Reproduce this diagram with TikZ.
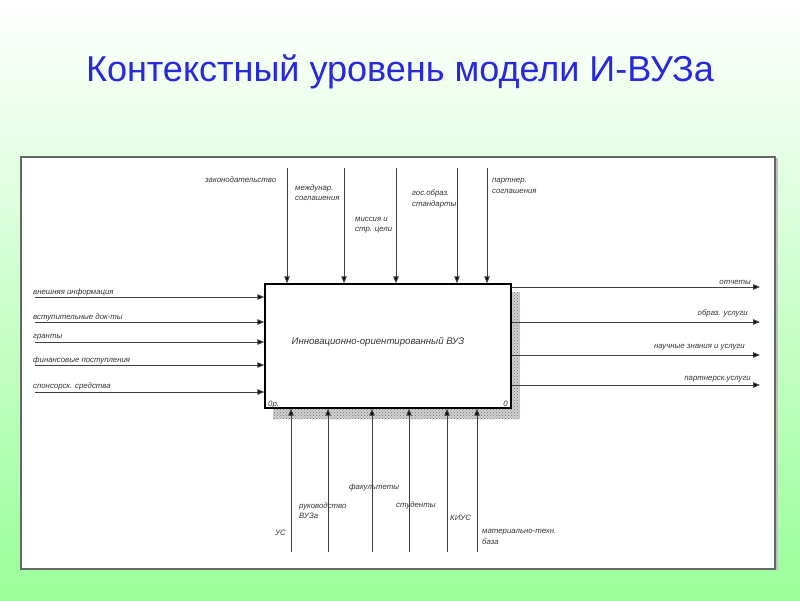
\documentclass[tikz,border=0pt]{standalone}
\usepackage{fontspec}
\setmainfont{Liberation Sans}
\usetikzlibrary{arrows.meta,patterns}
\definecolor{titleblue}{RGB}{40,40,220}
\definecolor{bggreen}{RGB}{153,255,153}
\begin{document}
\begin{tikzpicture}[x=1pt,y=-1pt,
  lbl/.style={font=\fontsize{7.8}{10.5}\selectfont\itshape, text=black!80, inner sep=0pt, align=left},
  rlbl/.style={lbl, align=right, anchor=base east},
  arr/.style={draw=black!75, line width=1pt, -{Triangle[length=7pt,width=5.5pt,fill=black]}},
  box/.style={draw=black, line width=1.4pt, fill=white, minimum width=246pt, minimum height=124pt, inner sep=0pt},
  titlestyle/.style={font=\fontsize{36}{40}\selectfont, text=titleblue, inner sep=0pt}
]
% background and bounding box
\shade[top color=white, bottom color=bggreen] (0,0) rectangle (800,600);
\useasboundingbox (0,0) rectangle (800,600);
% title
\node[titlestyle] (title) at (400,72) {Контекстный уровень модели И-ВУЗа};
% white frame
\draw[draw=black!25, line width=2pt] (777,158) -- (777,570);
\draw[draw=black!60, line width=1.2pt, fill=white] (21,157) rectangle (775,569);
% shadow and box
\fill[black!18] (273,292) rectangle (520,419);
\fill[pattern=crosshatch dots, pattern color=black!55] (273,292) rectangle (520,419);
\node[box] (box) at (388,346) {};
\node[lbl, font=\fontsize{9.6}{11}\selectfont\itshape] (boxtext) at (378,342) {Инновационно-ориентированный ВУЗ};
\node[lbl, anchor=base west] (num) at (268,406.5) {0р.};
\node[lbl, anchor=base east] (num2) at (508,406.5) {0};
% top arrows (controls)
\foreach \n/\x in {t1/287,t2/344,t3/396,t4/457,t5/487}{
  \coordinate (\n) at (\x,168);
  \draw[arr] (\n) -- (\n |- box.north);
}
% left arrows (inputs)
\foreach \n/\y in {l1/297,l2/322,l3/342,l4/365,l5/392}{
  \coordinate (\n) at (35,\y);
  \draw[arr] (\n) -- (\n -| box.west);
}
% right arrows (outputs)
\foreach \n/\y in {r1/287,r2/322,r3/355,r4/385}{
  \coordinate (\n) at (760,\y);
  \draw[arr] (\n -| box.east) -- (\n);
}
% bottom arrows (mechanisms)
\foreach \n/\x in {b1/291,b2/328,b3/372,b4/409,b5/447,b6/477}{
  \coordinate (\n) at (\x,552);
  \draw[arr] (\n) -- (\n |- box.south);
}
% top labels (base anchor = last line baseline)
\node[lbl, anchor=base west] (tl1) at (205,182.5) {законодательство};
\node[lbl, anchor=base west] (tl2) at (295,200.5) {междунар.\\соглашения};
\node[lbl, anchor=base west] (tl3) at (355,231.5) {миссия и\\стр. цели};
\node[lbl, anchor=base west] (tl4) at (412,206) {гос.образ.\\стандарты};
\node[lbl, anchor=base west] (tl5) at (492,193) {партнер.\\соглашения};
% left labels
\node[lbl, anchor=base west] (ll1) at (33,294.5) {внешняя информация};
\node[lbl, anchor=base west] (ll2) at (33,319.5) {вступительные док-ты};
\node[lbl, anchor=base west] (ll3) at (33,338.5) {гранты};
\node[lbl, anchor=base west] (ll4) at (33,362.5) {финансовые поступления};
\node[lbl, anchor=base west] (ll5) at (33,388.5) {спонсорск. средства};
% right labels
\node[rlbl] (rl1) at (751,284.5) {отчеты};
\node[rlbl] (rl2) at (748,315.5) {образ. услуги};
\node[rlbl] (rl3) at (745,348.5) {научные знания и услуги};
\node[rlbl] (rl4) at (751,380.5) {партнерск.услуги};
% bottom labels
\node[lbl, anchor=base west] (bl1) at (275,535.5) {УС};
\node[lbl, anchor=base west] (bl2) at (299,518.5) {руководство\\ВУЗа};
\node[lbl, anchor=base west] (bl3) at (349,489.5) {факультеты};
\node[lbl, anchor=base west] (bl4) at (396,507.5) {студенты};
\node[lbl, anchor=base west] (bl5) at (450,520.5) {КИУС};
\node[lbl, anchor=base west] (bl6) at (482,544) {материально-техн.\\база};
\end{tikzpicture}
\end{document}
